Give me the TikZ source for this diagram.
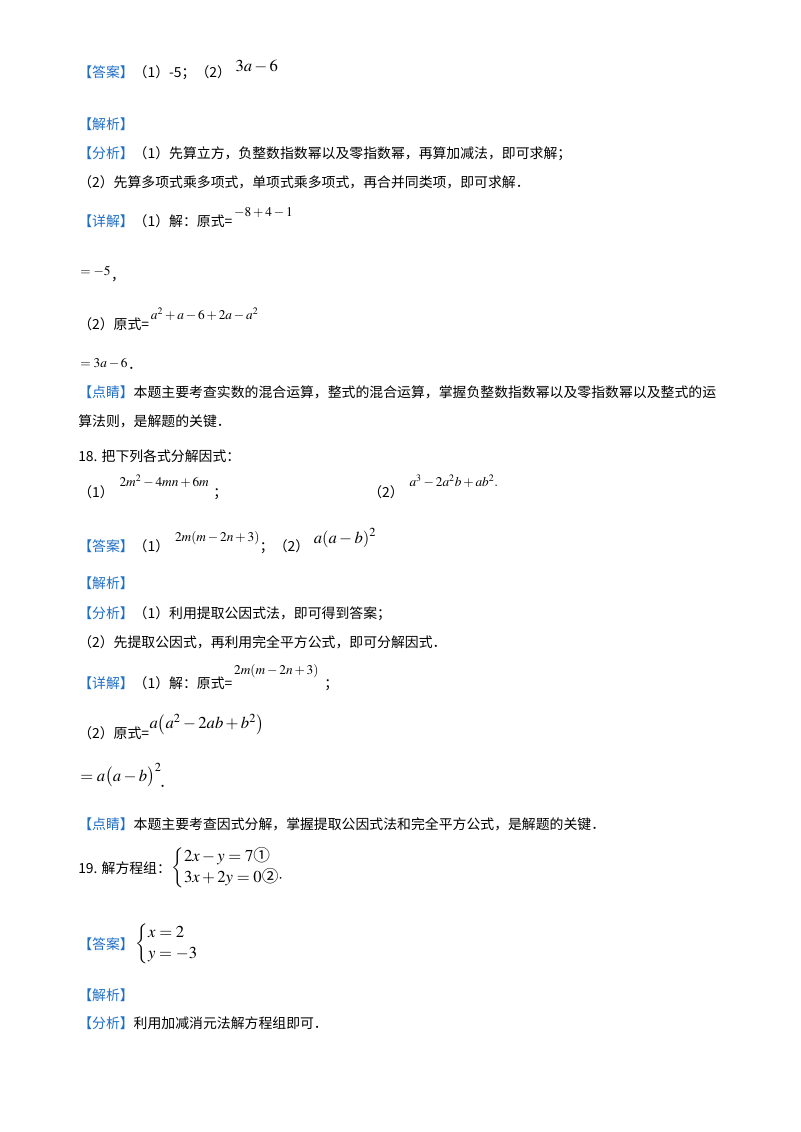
\documentclass[tikz,border=0pt]{standalone}
\usepackage{fontspec}
\usepackage{amsmath}
\usepackage{mathptmx}
\setmainfont{Liberation Serif}
\newfontfamily\cjk{Noto Sans CJK SC}
\definecolor{ansblue}{HTML}{1F6FC5}
\begin{document}
\begin{tikzpicture}[x=0.75pt,y=-0.75pt,
  t/.style={anchor=base west,inner sep=0pt,font=\cjk\fontsize{10.4}{12}\selectfont},
  ms/.style={anchor=base west,inner sep=0pt,font=\fontsize{10}{12}\selectfont},
  mb/.style={anchor=base west,inner sep=0pt,font=\fontsize{12.5}{15}\selectfont}]
\useasboundingbox (0,0) rectangle (800,1132);
\fill[white] (0,0) rectangle (800,1132);
\newcommand\lb[1]{\textcolor{ansblue}{【#1】}}
\node[t] (a1) at (78,77) {\lb{答案}（1）-5；（2）};
\node[mb] (a1m) at ([xshift=3pt,yshift=4pt]a1.base east) {$3a-6$};
\node[t] (j1) at (78,129) {\lb{解析}};
\node[t] (f1) at (78,158) {\lb{分析}（1）先算立方，负整数指数幂以及零指数幂，再算加减法，即可求解；};
\node[t] (f2) at (78,187) {（2）先算多项式乘多项式，单项式乘多项式，再合并同类项，即可求解．};
\node[t] (x1) at (78,226) {\lb{详解}（1）解：原式=};
\node[ms] (x1m) at ([xshift=1pt,yshift=7pt]x1.base east) {$-8+4-1$};
\node[ms] (x2) at (80,275) {$=-5$};
\node[t] (x2c) at ([yshift=-4pt]x2.base east) {，};
\node[t] (x3) at (78,329) {（2）原式=};
\node[ms] (x3m) at ([xshift=1pt,yshift=7pt]x3.base east) {$a^2+a-6+2a-a^2$};
\node[ms] (x4) at (80,367) {$=3a-6$};
\node[t] (x4c) at ([yshift=-2pt]x4.base east) {．};
\node[t] (d1) at (78,397) {\lb{点睛}本题主要考查实数的混合运算，整式的混合运算，掌握负整数指数幂以及零指数幂以及整式的运};
\node[t] (d2) at (78,426) {算法则，是解题的关键．};
\node[t] (q18) at (78,461) {18. 把下列各式分解因式：};
\node[t] (q18a) at (78,497) {（1）};
\node[ms] (q18am) at ([xshift=4pt,yshift=8pt]q18a.base east) {$2m^2-4mn+6m$};
\node[t] (q18as) at ([xshift=3pt,yshift=-8pt]q18am.base east) {；};
\node[t] (q18b) at (368,497) {（2）};
\node[ms] (q18bm) at ([xshift=4pt,yshift=8pt]q18b.base east) {$a^3-2a^2b+ab^2.$};
\node[t] (a2) at (78,551) {\lb{答案}（1）};
\node[ms] (a2m) at ([xshift=4pt,yshift=7pt]a2.base east) {$2m(m-2n+3)$};
\node[t] (a2b) at ([yshift=-7pt]a2m.base east) {；（2）};
\node[mb] (a2bm) at ([xshift=3pt,yshift=6pt]a2b.base east) {$a(a-b)^2$};
\node[t] (j2) at (78,588) {\lb{解析}};
\node[t] (f3) at (78,618) {\lb{分析}（1）利用提取公因式法，即可得到答案；};
\node[t] (f4) at (78,647) {（2）先提取公因式，再利用完全平方公式，即可分解因式．};
\node[t] (x5) at (78,688) {\lb{详解}（1）解：原式=};
\node[ms] (x5m) at ([xshift=1pt,yshift=10pt]x5.base east) {$2m(m-2n+3)$};
\node[t] (x5s) at ([xshift=4pt,yshift=-10pt]x5m.base east) {；};
\node[t] (x6) at (78,738) {（2）原式=};
\node[mb] (x6m) at ([yshift=7pt]x6.base east) {$a\bigl(a^2-2ab+b^2\bigr)$};
\node[mb] (x7) at (80,781) {$=a\bigl(a-b\bigr)^2$};
\node[t] (x7c) at ([xshift=-2pt,yshift=-5pt]x7.base east) {．};
\node[t] (d3) at (78,829) {\lb{点睛}本题主要考查因式分解，掌握提取公因式法和完全平方公式，是解题的关键．};
\node[t] (q19) at (78,873) {19. 解方程组：};
\node[mb,anchor=west] (q19m) at ([yshift=4pt]q19.base east) {$\left\{\begin{array}{@{}l@{}}2x-y=7\text{\cjk ①}\\[1pt]3x+2y=0\text{\cjk ②}\cdot\end{array}\right.$};
\node[t] (a3) at (78,949) {\lb{答案}};
\node[mb,anchor=west] (a3m) at ([xshift=1pt,yshift=4pt]a3.base east) {$\left\{\begin{array}{@{}l@{}}x=2\\[1pt]y=-3\end{array}\right.$};
\node[t] (j3) at (78,1000) {\lb{解析}};
\node[t] (f5) at (78,1028) {\lb{分析}利用加减消元法解方程组即可．};
\end{tikzpicture}
\end{document}
